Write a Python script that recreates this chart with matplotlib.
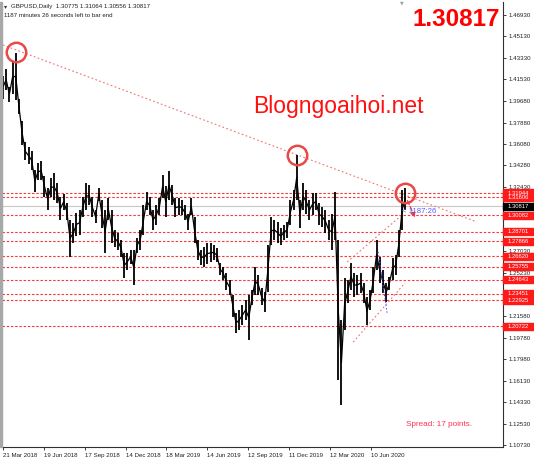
import numpy as np
import matplotlib
matplotlib.use("Agg")
import matplotlib.pyplot as plt
import matplotlib.transforms as mtransforms
from matplotlib.patches import Rectangle

# weekly high / low, GBPUSD, starting week of 21 Mar 2018
week_high = [
    1.4180, 1.4240, 1.4090, 1.4310, 1.4377, 1.3990, 1.3800, 1.3620, 1.3580, 1.3550,
    1.3390, 1.3450, 1.3460, 1.3340, 1.3240, 1.3320, 1.3360, 1.3280, 1.3160, 1.3190,
    1.3110, 1.2968, 1.2940, 1.3030, 1.3050, 1.3160, 1.3280, 1.3260, 1.3160, 1.3050,
    1.3240, 1.3136, 1.3052, 1.3150, 1.3050, 1.2884, 1.2860, 1.2800, 1.2690, 1.2690,
    1.2715, 1.2715, 1.2820, 1.2884, 1.3090, 1.3200, 1.3160, 1.3052, 1.3090, 1.3150,
    1.3350, 1.3250, 1.3380, 1.3260, 1.3150, 1.3150, 1.3136, 1.3090, 1.3020, 1.3150,
    1.2990, 1.2800, 1.2715, 1.2740, 1.2770, 1.2770, 1.2760, 1.2730, 1.2605, 1.2570,
    1.2520, 1.2463, 1.2336, 1.2185, 1.2210, 1.2250, 1.2294, 1.2336, 1.2378, 1.2570,
    1.2505, 1.2395, 1.2360, 1.2760, 1.2990, 1.2968, 1.2950, 1.2900, 1.2926, 1.2950,
    1.3136, 1.3220, 1.3514, 1.3136, 1.3280, 1.3220, 1.3136, 1.3195, 1.3195, 1.3110,
    1.3080, 1.3052, 1.2968, 1.3020, 1.3200, 1.2800, 1.2126, 1.2480, 1.2463, 1.2605,
    1.2520, 1.2505, 1.2520, 1.2437, 1.2320, 1.2378, 1.2570, 1.2800, 1.2656, 1.2547,
    1.2437, 1.2488, 1.2648, 1.2673, 1.2884, 1.3220, 1.3240,
]
week_low = [
    1.3990, 1.4060, 1.3960, 1.4030, 1.3980, 1.3860, 1.3600, 1.3470, 1.3440, 1.3390,
    1.3200, 1.3300, 1.3300, 1.3160, 1.3050, 1.3160, 1.3136, 1.3110, 1.2968, 1.3050,
    1.2968, 1.2660, 1.2770, 1.2830, 1.2840, 1.2990, 1.3050, 1.3090, 1.2990, 1.2940,
    1.3130, 1.2900, 1.2690, 1.2968, 1.2770, 1.2740, 1.2715, 1.2660, 1.2480, 1.2547,
    1.2600, 1.2420, 1.2690, 1.2715, 1.2840, 1.3052, 1.3010, 1.2884, 1.2926, 1.3010,
    1.3150, 1.2990, 1.3136, 1.3090, 1.2990, 1.3010, 1.3010, 1.2968, 1.2884, 1.3010,
    1.2770, 1.2631, 1.2590, 1.2570, 1.2600, 1.2610, 1.2631, 1.2610, 1.2505, 1.2463,
    1.2378, 1.2336, 1.2150, 1.2016, 1.2041, 1.2083, 1.2126, 1.1957, 1.2250, 1.2336,
    1.2336, 1.2250, 1.2193, 1.2360, 1.2760, 1.2800, 1.2770, 1.2760, 1.2800, 1.2820,
    1.2926, 1.3052, 1.3136, 1.2900, 1.3052, 1.3020, 1.2968, 1.3010, 1.3052, 1.2926,
    1.2910, 1.2860, 1.2800, 1.2715, 1.2800, 1.1620, 1.1409, 1.2041, 1.2270, 1.2378,
    1.2320, 1.2336, 1.2353, 1.2268, 1.2083, 1.2210, 1.2353, 1.2547, 1.2437, 1.2353,
    1.2277, 1.2378, 1.2463, 1.2505, 1.2656, 1.2884, 1.3052,
]

date_labels = ["21 Mar 2018", "19 Jun 2018", "17 Sep 2018", "14 Dec 2018", "18 Mar 2019",
               "14 Jun 2019", "12 Sep 2019", "11 Dec 2019", "12 Mar 2020", "10 Jun 2020"]
weeks_per_label = 12.8

price_ticks = [1.46930, 1.45130, 1.43330, 1.41530, 1.39680, 1.37880, 1.36080, 1.34280,
               1.32430, 1.27030, 1.25230, 1.21580, 1.19780, 1.17980, 1.16130, 1.14330,
               1.12530, 1.10730]
levels = [1.31944, 1.31606, 1.30082, 1.28701, 1.27866, 1.26620, 1.25755, 1.24643,
          1.23451, 1.22925, 1.20722]
last_price = 1.30817

# annotation anchors (week index, price)
trend_main = ([0, 148.4], [1.4441, 1.2951])
trend_upper = ([107.8, 125.0], [1.2614, 1.3010])
trend_lower = ([109.7, 125.9], [1.1940, 1.2437])
trend_blue = ([117.5, 120.3], [1.2698, 1.2184])
circle_x = [4.1, 92.0, 126.0]
circle_y = [1.4381, 1.3514, 1.3195]

W, H = 534, 462
fig = plt.figure(figsize=(W / 100, H / 100), dpi=100)
fig.patch.set_facecolor("white")
ax = fig.add_axes([2 / W, 15 / H, 501 / W, 445 / H])

x = np.arange(len(week_high))
ax.vlines(x, week_low, week_high, color="black", lw=1.3, zorder=3)
mid = (np.array(week_high) + np.array(week_low)) / 2
ax.plot(x, mid, color="black", lw=0.9, zorder=3)

ax.set_xlim(-0.3, 156.6)
ax.set_ylim(1.1056, 1.4803)

red = "#f23a3a"
for lv in levels:
    ax.axhline(lv, color=red, lw=0.8, ls=(0, (2.2, 1.6)), zorder=2)
ax.axhline(last_price, color="#c8c8c8", lw=0.8, zorder=1)

ax.plot(*trend_main, color="#f07070", lw=0.8, ls=(0, (1.5, 2.2)), zorder=2)
ax.plot(*trend_upper, color="#f07070", lw=0.8, ls=(0, (1.5, 2.2)), zorder=2)
ax.plot(*trend_lower, color="#f07070", lw=0.8, ls=(0, (1.5, 2.2)), zorder=2)
ax.plot(*trend_blue, color="#5050ff", lw=0.8, ls=(0, (1.2, 1.8)), zorder=4)

ax.plot(circle_x, circle_y, "o", mfc="none", mec="#e84848", ms=14, mew=1.8, zorder=5)
ax.annotate("", xy=(129.4, 1.2968), xytext=(126.3, 1.3153),
            arrowprops=dict(arrowstyle="-|>", color=red, lw=0.9, ls="--",
                            mutation_scale=7), zorder=5)
ax.text(125.1, 1.3043, "< 1187:26", color="#5a5aff", fontsize=5.6,
        family="Liberation Sans", va="center", ha="left", zorder=5)

# axes styling
for s in ["top", "left"]:
    ax.spines[s].set_visible(False)
ax.spines["right"].set_color("#303030")
ax.spines["bottom"].set_color("#303030")
ax.spines["right"].set_linewidth(0.8)
ax.spines["bottom"].set_linewidth(0.8)
ax.yaxis.tick_right()
ax.set_yticks(price_ticks)
ax.set_yticklabels([f"{p:.5f}" for p in price_ticks])
ax.set_xticks(np.arange(len(date_labels)) * weeks_per_label)
ax.set_xticklabels(date_labels, ha="left")
ax.tick_params(axis="y", length=2.5, width=0.6, pad=1.5, labelsize=4.4, colors="#202020")
ax.tick_params(axis="x", length=2.5, width=0.6, pad=1.5, labelsize=4.4, colors="#202020")
for lab in ax.get_xticklabels() + ax.get_yticklabels():
    lab.set_family("Liberation Sans")

blend = mtransforms.blended_transform_factory(ax.transAxes, ax.transData)
box_h = 0.0060
for lv in levels:
    ax.add_patch(Rectangle((1.0, lv - box_h / 2), 0.062, box_h, transform=blend,
                           color="#ff1a1a", clip_on=False, zorder=6))
    ax.text(1.009, lv, f"{lv:.5f}", transform=blend, color="white", fontsize=4.2,
            family="Liberation Sans", va="center", ha="left", clip_on=False, zorder=7)
ax.add_patch(Rectangle((1.0, last_price - box_h / 2), 0.062, box_h, transform=blend,
                       color="black", clip_on=False, zorder=6))
ax.text(1.009, last_price, f"{last_price:.5f}", transform=blend, color="white",
        fontsize=4.2, family="Liberation Sans", va="center", ha="left", clip_on=False, zorder=7)

# left grey frame
fig.add_artist(Rectangle((0, 15 / H), 1.8 / W, 445 / H, transform=fig.transFigure,
                         color="#a8a8a8"))

# header texts
fig.text(4 / W, 1 - 6.5 / H, "\u25be", fontsize=4.5, color="#333333", va="center")
fig.text(11 / W, 1 - 6.5 / H, "GBPUSD,Daily  1.30775 1.31064 1.30556 1.30817",
         fontsize=4.4, family="Liberation Sans", color="#202020", va="center")
fig.text(4 / W, 1 - 15.5 / H, "1187 minutes 26 seconds left to bar end",
         fontsize=4.4, family="Liberation Sans", color="#202020", va="center")
fig.text(500 / W, 1 - 19 / H, "1.30817", fontsize=17.5, fontweight="bold",
         family="Liberation Sans", color="#ff0000", va="center", ha="right")
fig.text(338 / W, 1 - 107 / H, "Blogngoaihoi.net", fontsize=16.5,
         family="Liberation Sans", color="#ff1010", va="center", ha="center")
fig.text(406 / W, 1 - 424 / H, "Spread: 17 points.", fontsize=5.9,
         family="Liberation Sans", color="#ff3355", va="center", ha="left")
fig.text(402 / W, 1 - 2.5 / H, "\u25bc", fontsize=3.5, color="#a0a0a0",
         va="center", ha="center")

fig.savefig("out.png", dpi=100, facecolor="white")
